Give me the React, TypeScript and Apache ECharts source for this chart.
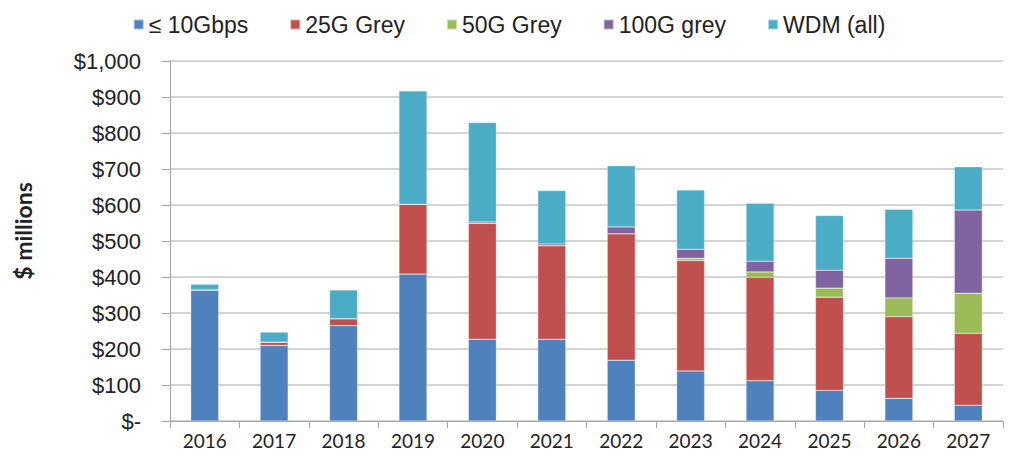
import React, { useEffect, useRef } from "react";
import * as echarts from "echarts";

const years = ["2016", "2017", "2018", "2019", "2020", "2021", "2022", "2023", "2024", "2025", "2026", "2027"];
const le10G = [364, 210, 265, 408, 227, 227, 169, 139, 112, 85, 63, 44];
const g25Grey = [0, 9, 19, 194, 322, 260, 351, 307, 287, 259, 227, 200];
const g50Grey = [0, 0, 0, 0, 0, 0, 0, 6, 15, 25, 52, 111];
const g100Grey = [0, 0, 0, 0, 4, 5, 19, 25, 30, 50, 110, 231];
const wdmAll = [16, 28, 80, 315, 276, 148, 170, 165, 161, 152, 136, 120];

const seriesNames = ["≤ 10Gbps", "25G Grey", "50G Grey", "100G grey", "WDM (all)"];
const seriesData = [le10G, g25Grey, g50Grey, g100Grey, wdmAll];
const colors = ["#4F81BD", "#C0504D", "#9BBB59", "#8064A2", "#4BACC6"];

export default function App() {
  const ref = useRef<HTMLDivElement>(null);
  useEffect(() => {
    if (!ref.current) return;
    const chart = echarts.init(ref.current, null, { renderer: "svg" });
    chart.setOption({
      animation: false,
      color: colors,
      legend: {
        top: 0,
        left: "center",
        icon: "rect",
        itemWidth: 10,
        itemHeight: 10,
        itemGap: 41,
        textStyle: { fontFamily: "Liberation Sans", fontSize: 23, color: "#222" },
        data: seriesNames,
      },
      graphic: [
        {
          type: "text",
          x: 15,
          y: 223,
          rotation: Math.PI / 2,
          style: {
            text: "$ millions",
            fontFamily: "Lato",
            fontWeight: "bold",
            fontSize: 23,
            fill: "#222",
            align: "center",
            verticalAlign: "middle",
          },
        },
      ],
      grid: { left: 162, right: 7, top: 53, bottom: 40, containLabel: false },
      xAxis: {
        type: "category",
        data: years,
        axisLine: { lineStyle: { color: "#a6a6a6", width: 1 } },
        axisTick: { show: true, length: 7, lineStyle: { color: "#a6a6a6" } },
        axisLabel: { fontFamily: "Lato", fontSize: 19, color: "#222", margin: 10 },
      },
      yAxis: {
        type: "value",
        min: 0,
        max: 1000,
        interval: 100,
        axisLine: { show: true, lineStyle: { color: "#a6a6a6" } },
        axisTick: { show: true, inside: false, length: 8, lineStyle: { color: "#a6a6a6" } },
        splitLine: { lineStyle: { color: "#c4c4c4", width: 1.5 } },
        axisLabel: {
          fontFamily: "Liberation Sans",
          fontSize: 22,
          color: "#222",
          margin: 29,
          formatter: (v: number) => (v === 0 ? "$-" : "$" + v.toLocaleString("en-US")),
        },
      },
      series: seriesNames.map((name, i) => ({
        name,
        type: "bar",
        stack: "total",
        data: seriesData[i],
        barWidth: 28,
        itemStyle: { color: colors[i], borderColor: "rgba(255,255,255,0.5)", borderWidth: 0.5 },
      })),
    });
    return () => chart.dispose();
  }, []);
  return <div ref={ref} style={{ width: 1002, height: 453 }} />;
}
